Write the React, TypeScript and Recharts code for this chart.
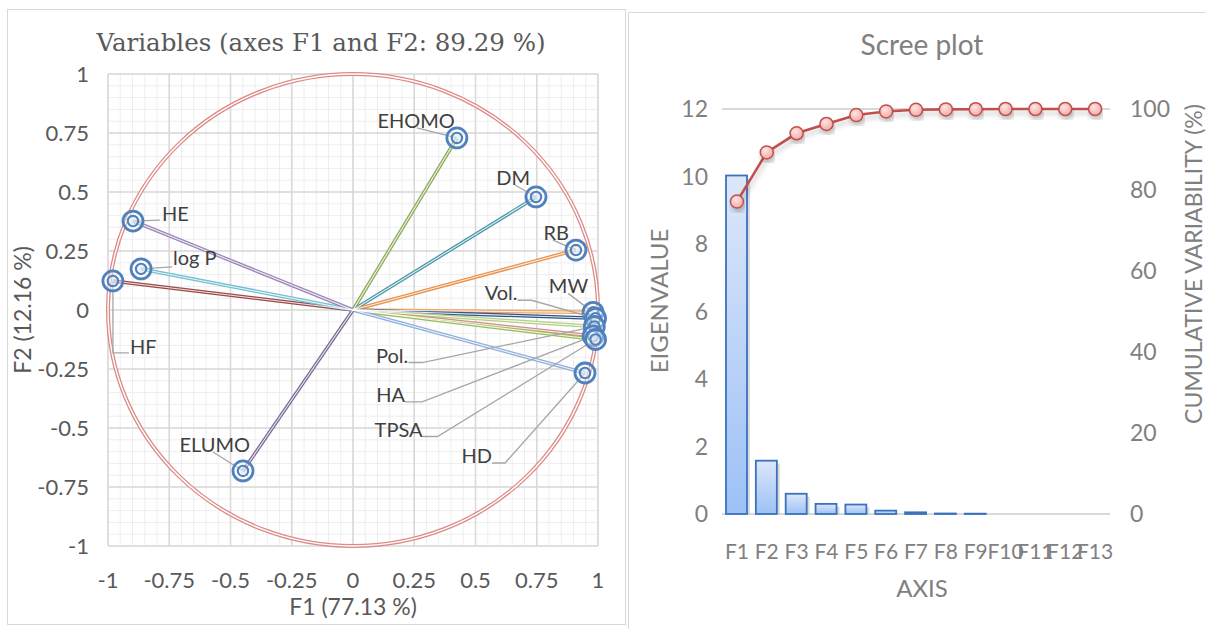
import React from 'react';
import {
  ScatterChart, Scatter, XAxis, YAxis, CartesianGrid, ReferenceLine, ReferenceArea,
  ComposedChart, Bar, Line, Label,
} from 'recharts';

// ---------- Data: correlation circle ----------
const variables = ['EHOMO', 'DM', 'RB', 'MW', 'Vol.', 'Pol.', 'HA', 'TPSA', 'HD', 'ELUMO', 'HF', 'log P', 'HE'];
const f1Loadings = [0.424, 0.747, 0.910, 0.980, 0.990, 0.985, 0.980, 0.990, 0.947, -0.449, -0.980, -0.865, -0.898];
const f2Loadings = [0.729, 0.479, 0.254, -0.010, -0.035, -0.070, -0.110, -0.125, -0.267, -0.682, 0.123, 0.174, 0.377];
const circleTicks = [-1, -0.75, -0.5, -0.25, 0, 0.25, 0.5, 0.75, 1];
const minorGrid = Array.from({ length: 41 }, (_, i) => Math.round((-1 + i * 0.05) * 100) / 100);

// ---------- Data: scree plot ----------
const factors = ['F1', 'F2', 'F3', 'F4', 'F5', 'F6', 'F7', 'F8', 'F9', 'F10', 'F11', 'F12', 'F13'];
const eigenvalues = [10.03, 1.58, 0.6, 0.3, 0.28, 0.1, 0.05, 0.015, 0.01, 0.004, 0.003, 0.002, 0.001];
const cumulative = [77.13, 89.29, 94.0, 96.3, 98.5, 99.4, 99.8, 99.9, 99.95, 100, 100, 100, 100];
const eigenTicks = [0, 2, 4, 6, 8, 10, 12];
const cumTicks = [0, 20, 40, 60, 80, 100];

// ---------- Styles ----------
const vectorColors: Record<string, string> = {
  EHOMO: '#8EAA5A', DM: '#4A96A8', RB: '#E8904A', MW: '#F2A567', 'Vol.': '#2F5687',
  'Pol.': '#B5CF84', HA: '#D88A88', TPSA: '#9BBB59', HD: '#8EAEDC', ELUMO: '#7B6C96',
  HF: '#9A4A48', 'log P': '#72C0D2', HE: '#9B87B8',
};
// label placement relative to the marker, in pixels
const labelLayout: Record<string, { dx: number; dy: number; anchor: 'start' | 'end'; leader: number[][] }> = {
  EHOMO: { dx: -2, dy: -10, anchor: 'end', leader: [[-40, -10], [0, 0]] },
  DM: { dx: -6, dy: -12, anchor: 'end', leader: [[-21, -12], [0, 0]] },
  RB: { dx: -7, dy: -10, anchor: 'end', leader: [[-23, -10], [0, 0]] },
  MW: { dx: -5, dy: -19, anchor: 'end', leader: [[-25, -19], [0, 0]] },
  'Vol.': { dx: -78, dy: -18, anchor: 'end', leader: [[-78, -18], [-64, -18], [0, 0]] },
  'Pol.': { dx: -186, dy: 36, anchor: 'end', leader: [[-186, 36], [-172, 36], [0, 0]] },
  HA: { dx: -188, dy: 66, anchor: 'end', leader: [[-188, 66], [-171, 66], [0, 0]] },
  TPSA: { dx: -173, dy: 97, anchor: 'end', leader: [[-173, 97], [-158, 97], [0, 0]] },
  HD: { dx: -93, dy: 90, anchor: 'end', leader: [[-93, 90], [-80, 90], [0, 0]] },
  ELUMO: { dx: 7, dy: -19, anchor: 'end', leader: [[-30, -19], [0, 0]] },
  HF: { dx: 17, dy: 73, anchor: 'start', leader: [[0, 0], [0, 72], [16, 72]] },
  'log P': { dx: 32, dy: -4, anchor: 'start', leader: [[0, 0], [31, -2]] },
  HE: { dx: 29, dy: 0, anchor: 'start', leader: [[0, 0], [27, -1]] },
};

const loadingData = variables.map((name, i) => ({ name, x: f1Loadings[i], y: f2Loadings[i] }));
const screeData = factors.map((factor, i) => ({ factor, eig: eigenvalues[i], cum: cumulative[i] }));

const SANS = 'Lato, "Noto Sans", sans-serif';

const VarMarker = (props: any) => {
  const { cx, cy, payload } = props;
  const lay = labelLayout[payload.name];
  const pts = lay.leader.map((p) => `${cx + p[0]},${cy + p[1]}`).join(' ');
  return (
    <g>
      <polyline points={pts} fill="none" stroke="#A6A6A6" strokeWidth={1.3} />
      <circle cx={cx} cy={cy} r={10} fill="rgba(255,255,255,0.35)" stroke="#4F81BD" strokeWidth={2.8} />
      <circle cx={cx} cy={cy} r={5.2} fill="rgba(220,230,242,0.5)" stroke="#4F81BD" strokeWidth={2.1} />
      <text x={cx + lay.dx} y={cy + lay.dy} textAnchor={lay.anchor} fontFamily={SANS} fontSize={20} fill="#404040">
        {payload.name}
      </text>
    </g>
  );
};

const CircleShape = (props: any) => {
  const { x, y, width, height } = props;
  const cx = x + width / 2;
  const cy = y + height / 2;
  return (
    <g>
      <ellipse cx={cx} cy={cy} rx={width / 2} ry={height / 2} fill="none" stroke="#DC8A87" strokeWidth={4} />
      <ellipse cx={cx} cy={cy} rx={width / 2} ry={height / 2} fill="none" stroke="#FFFFFF" strokeWidth={1.4} />
    </g>
  );
};

const BarShape = (props: any) => {
  const { x, y, width, height } = props;
  if (!height || height < 0.3) return <g />;
  return (
    <g>
      <rect x={x + 3} y={y + 3} width={width} height={Math.max(height - 3, 0)} fill="#8C8C8C" opacity={0.3} />
      <rect x={x} y={y} width={width} height={height} fill="url(#barGrad)" stroke="#3A72BE" strokeWidth={1.8} />
    </g>
  );
};

const rotatedTitle = (text: string, dx: number, dyFromTop: number | null, size: number, fill: string) => (p: any) => {
  const vb = p.viewBox || {};
  const x = vb.x + dx;
  const y = dyFromTop == null ? vb.y + vb.height / 2 : vb.y + dyFromTop;
  return (
    <text x={x} y={y} transform={`rotate(-90 ${x} ${y})`} textAnchor="middle" dominantBaseline="central"
      fontFamily={SANS} fontSize={size} fill={fill}>
      {text}
    </text>
  );
};

const fmt = (v: number) => String(v);

export default function App() {
  return (
    <div style={{ position: 'absolute', left: 0, top: 0, width: 1206, height: 629, background: '#fff', overflow: 'hidden' }}>
      {/* panel frames */}
      <div style={{ position: 'absolute', left: 7, top: 9, width: 617, height: 614, border: '1.5px solid #D9D9D9' }} />
      <div style={{ position: 'absolute', left: 628, top: 12, width: 600, height: 630, border: '1.5px solid #D9D9D9' }} />

      {/* titles */}
      <div style={{ position: 'absolute', left: 8, top: 27, width: 626, textAlign: 'center', fontFamily: '"DejaVu Serif", serif', fontSize: 24.5, color: '#595959', lineHeight: '32px' }}>
        Variables (axes F1 and F2: 89.29 %)
      </div>
      <div style={{ position: 'absolute', left: 722, top: 27, width: 400, textAlign: 'center', fontFamily: SANS, fontSize: 28, color: '#808080', lineHeight: '34px' }}>
        Scree plot
      </div>

      {/* Left: correlation circle */}
      <div style={{ position: 'absolute', left: 0, top: 0 }}>
        <ScatterChart width={626} height={629} margin={{ top: 74, right: 28, bottom: 23, left: 48 }}>
          <CartesianGrid verticalValues={minorGrid} horizontalValues={minorGrid} stroke="#EEEEEE" strokeWidth={1} />
          <CartesianGrid stroke="#D9D9D9" strokeWidth={1.6} />
          <XAxis type="number" dataKey="x" domain={[-1, 1]} ticks={circleTicks} tickFormatter={fmt}
            axisLine={false} tickLine={false} tickSize={0} tickMargin={26} height={60} interval={0}
            tick={{ fill: '#595959', fontSize: 22, fontFamily: SANS }}>
            <Label value="F1 (77.13 %)" position="insideBottom" offset={-9} fill="#595959" fontSize={23} fontFamily={SANS} />
          </XAxis>
          <YAxis type="number" dataKey="y" domain={[-1, 1]} ticks={circleTicks} tickFormatter={fmt}
            axisLine={false} tickLine={false} tickSize={0} tickMargin={19} width={60} interval={0}
            tick={{ fill: '#595959', fontSize: 22, fontFamily: SANS }}>
            <Label content={rotatedTitle('F2 (12.16 %)', -26, null, 23, '#595959')} />
          </YAxis>
          <ReferenceArea x1={-1} x2={1} y1={-1} y2={1} shape={CircleShape} ifOverflow="visible" />
          {loadingData.map((d) => (
            <ReferenceLine key={'c' + d.name} segment={[{ x: 0, y: 0 }, { x: d.x, y: d.y }]}
              stroke={vectorColors[d.name]} strokeWidth={3.6} ifOverflow="visible" />
          ))}
          {loadingData.map((d) => (
            <ReferenceLine key={'w' + d.name} segment={[{ x: 0, y: 0 }, { x: d.x, y: d.y }]}
              stroke="#FFFFFF" strokeOpacity={0.85} strokeWidth={1.1} ifOverflow="visible" />
          ))}
          <Scatter data={loadingData} shape={VarMarker} isAnimationActive={false} />
        </ScatterChart>
      </div>

      {/* Right: scree plot */}
      <div style={{ position: 'absolute', left: 620, top: 0 }}>
        <ComposedChart width={586} height={629} data={screeData} margin={{ top: 109, right: 26, bottom: 55, left: 42 }} barCategoryGap="30%">
          <defs>
            <linearGradient id="barGrad" x1="0" y1="0" x2="0" y2="1">
              <stop offset="0%" stopColor="#DDE7F9" />
              <stop offset="100%" stopColor="#9DC1F6" />
            </linearGradient>
            <radialGradient id="dotGrad" cx="40%" cy="35%" r="70%">
              <stop offset="0%" stopColor="#FDE6E5" />
              <stop offset="100%" stopColor="#F3A6A4" />
            </radialGradient>
            <filter id="lineShadow" x="-10%" y="-10%" width="120%" height="140%">
              <feDropShadow dx="1.5" dy="4" stdDeviation="2.5" floodColor="#000" floodOpacity="0.22" />
            </filter>
          </defs>
          <CartesianGrid vertical={false} stroke="#D9D9D9" strokeWidth={1.8} />
          <XAxis dataKey="factor" axisLine={false} tickLine={false} tickSize={0} tickMargin={30} height={60} interval={0}
            tick={{ fill: '#808080', fontSize: 21, fontFamily: SANS }} />
          <YAxis yAxisId="left" domain={[0, 12]} ticks={eigenTicks} axisLine={false} tickLine={false} tickSize={0}
            tickMargin={14} width={60} interval={0} tick={{ fill: '#808080', fontSize: 23, fontFamily: SANS }}>
            <Label content={rotatedTitle('EIGENVALUE', -4, 192, 24, '#808080')} />
          </YAxis>
          <YAxis yAxisId="right" orientation="right" domain={[0, 100]} ticks={cumTicks} axisLine={false} tickLine={false}
            tickSize={0} tickMargin={20} width={70} interval={0} tick={{ fill: '#808080', fontSize: 23, fontFamily: SANS }}>
            <Label content={rotatedTitle('CUMULATIVE VARIABILITY (%)', 83, 155, 23, '#808080')} />
          </YAxis>
          <Bar yAxisId="left" dataKey="eig" barSize={21} shape={BarShape} isAnimationActive={false} />
          <Line yAxisId="right" dataKey="cum" stroke="#C0504D" strokeWidth={2.6} filter="url(#lineShadow)"
            dot={{ r: 6.5, fill: 'url(#dotGrad)', stroke: '#C0504D', strokeWidth: 1.5 }}
            activeDot={false} isAnimationActive={false} />
        </ComposedChart>
      </div>
      <div style={{ position: 'absolute', left: 722, top: 573, width: 400, textAlign: 'center', fontFamily: SANS, fontSize: 24, color: '#808080', lineHeight: '30px' }}>
        AXIS
      </div>
    </div>
  );
}
